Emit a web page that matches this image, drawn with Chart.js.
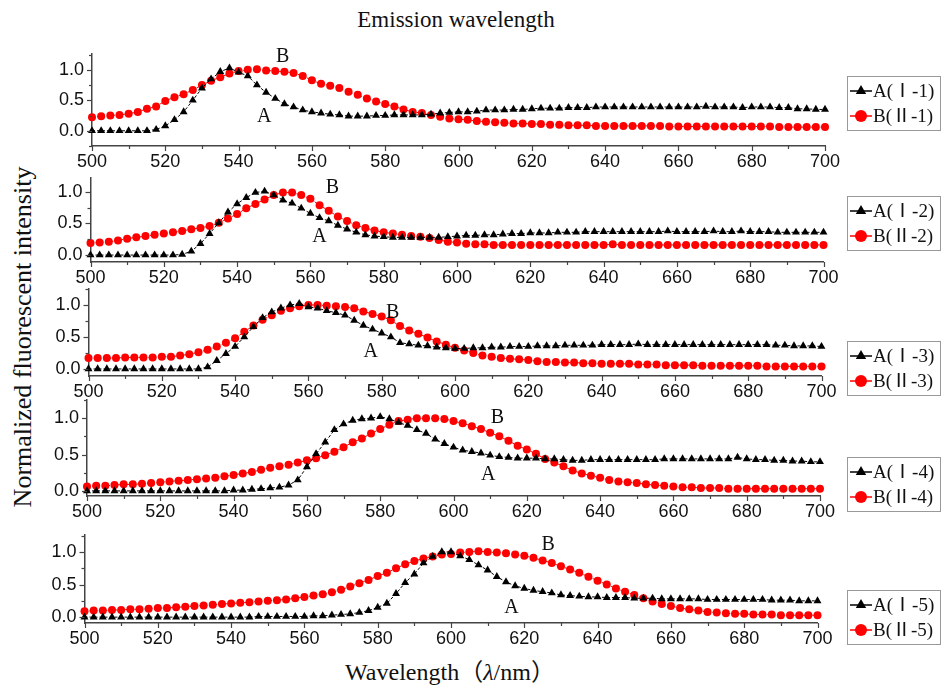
<!DOCTYPE html>
<html>
<head>
<meta charset="utf-8">
<script src="https://cdn.jsdelivr.net/npm/chart.js@4.4.0/dist/chart.umd.min.js"></script>
<style>
  body { margin: 0; background: #fff; }
  #wrap { position: relative; width: 944px; height: 686px; overflow: hidden; background: #fff; }
  .panel { position: absolute; left: 0; }
  .txt { position: absolute; font-family: "Liberation Serif", "Noto Sans CJK SC", serif; color: #111; white-space: nowrap; transform: translate(-50%, -50%); }
  #title { left: 456px; top: 20px; font-size: 23px; }
  #ytitle { left: 23px; top: 337px; font-size: 26px; transform: translate(-50%, -50%) rotate(-90deg); }
  #xtitle { left: 450px; top: 669px; font-size: 24px; }
</style>
</head>
<body>
<div id="wrap">
  <div class="txt" id="title">Emission wavelength</div>
  <div class="txt" id="ytitle">Normalized fluorescent intensity</div>
  <div class="txt" id="xtitle">Wavelength（<i>λ</i>/nm）</div>
</div>
<script>
// wavelength grid (nm)
const wavelengths = [
  500, 502.5, 505, 507.5, 510, 512.5, 515, 517.5, 520, 522.5,
  525, 527.5, 530, 532.5, 535, 537.5, 540, 542.5, 545, 547.5,
  550, 552.5, 555, 557.5, 560, 562.5, 565, 567.5, 570, 572.5,
  575, 577.5, 580, 582.5, 585, 587.5, 590, 592.5, 595, 597.5,
  600, 602.5, 605, 607.5, 610, 612.5, 615, 617.5, 620, 622.5,
  625, 627.5, 630, 632.5, 635, 637.5, 640, 642.5, 645, 647.5,
  650, 652.5, 655, 657.5, 660, 662.5, 665, 667.5, 670, 672.5,
  675, 677.5, 680, 682.5, 685, 687.5, 690, 692.5, 695, 697.5,
  700
];

// panel 1
const a1 = [
  0, 0, 0, 0, 0, 0, 0, 0.02, 0.08, 0.18,
  0.31, 0.50, 0.70, 0.85, 0.97, 1.03, 0.96, 0.90, 0.75, 0.63,
  0.53, 0.44, 0.39, 0.34, 0.31, 0.29, 0.27, 0.26, 0.24, 0.24,
  0.24, 0.25, 0.25, 0.26, 0.26, 0.26, 0.26, 0.27, 0.29, 0.30,
  0.31, 0.31, 0.32, 0.34, 0.34, 0.34, 0.35, 0.35, 0.36, 0.37,
  0.37, 0.37, 0.38, 0.38, 0.38, 0.39, 0.39, 0.39, 0.39, 0.39,
  0.39, 0.39, 0.39, 0.39, 0.39, 0.39, 0.39, 0.40, 0.39, 0.39,
  0.39, 0.38, 0.39, 0.39, 0.39, 0.38, 0.38, 0.36, 0.36, 0.35,
  0.35
];
const b1 = [
  0.22, 0.24, 0.25, 0.26, 0.28, 0.31, 0.36, 0.40, 0.49, 0.55,
  0.60, 0.67, 0.75, 0.82, 0.88, 0.94, 0.98, 1.00, 1.01, 0.99,
  0.98, 0.97, 0.95, 0.90, 0.83, 0.77, 0.74, 0.70, 0.64, 0.59,
  0.53, 0.48, 0.44, 0.40, 0.35, 0.31, 0.29, 0.26, 0.23, 0.20,
  0.19, 0.18, 0.16, 0.15, 0.14, 0.13, 0.12, 0.12, 0.11, 0.11,
  0.10, 0.10, 0.09, 0.09, 0.09, 0.08, 0.08, 0.08, 0.08, 0.08,
  0.08, 0.08, 0.08, 0.07, 0.07, 0.07, 0.07, 0.07, 0.07, 0.07,
  0.07, 0.07, 0.07, 0.07, 0.07, 0.06, 0.06, 0.06, 0.06, 0.06,
  0.06
];

// panel 2
const a2 = [
  0, 0, 0, 0, 0, 0, 0, 0, 0, 0,
  0.01, 0.06, 0.18, 0.34, 0.51, 0.68, 0.81, 0.91, 0.99, 1.01,
  0.95, 0.87, 0.82, 0.74, 0.66, 0.59, 0.54, 0.47, 0.41, 0.36,
  0.32, 0.30, 0.29, 0.28, 0.28, 0.28, 0.28, 0.28, 0.28, 0.29,
  0.30, 0.31, 0.31, 0.32, 0.32, 0.33, 0.34, 0.34, 0.35, 0.35,
  0.35, 0.36, 0.36, 0.36, 0.37, 0.37, 0.37, 0.37, 0.37, 0.37,
  0.37, 0.37, 0.37, 0.38, 0.37, 0.37, 0.37, 0.37, 0.38, 0.37,
  0.37, 0.38, 0.37, 0.37, 0.37, 0.36, 0.36, 0.36, 0.36, 0.36,
  0.36
];
const b2 = [
  0.19, 0.20, 0.21, 0.23, 0.26, 0.28, 0.30, 0.32, 0.34, 0.36,
  0.38, 0.41, 0.43, 0.46, 0.51, 0.58, 0.65, 0.74, 0.81, 0.88,
  0.95, 0.99, 0.99, 0.95, 0.89, 0.79, 0.70, 0.61, 0.54, 0.47,
  0.43, 0.39, 0.36, 0.34, 0.32, 0.30, 0.29, 0.27, 0.24, 0.21,
  0.20, 0.18, 0.17, 0.17, 0.16, 0.16, 0.16, 0.16, 0.16, 0.16,
  0.16, 0.16, 0.16, 0.16, 0.16, 0.16, 0.16, 0.17, 0.16, 0.16,
  0.16, 0.16, 0.16, 0.16, 0.16, 0.16, 0.16, 0.16, 0.16, 0.16,
  0.16, 0.16, 0.16, 0.16, 0.16, 0.16, 0.16, 0.16, 0.16, 0.16,
  0.16
];

// panel 3
const a3 = [
  0, 0, 0, 0, 0, 0, 0, 0, 0, 0,
  0, 0, 0, 0.03, 0.13, 0.24, 0.35, 0.50, 0.66, 0.80,
  0.89, 0.95, 1.00, 1.02, 0.97, 0.95, 0.91, 0.88, 0.84, 0.76,
  0.68, 0.62, 0.56, 0.50, 0.41, 0.39, 0.37, 0.36, 0.34, 0.33,
  0.32, 0.32, 0.33, 0.33, 0.34, 0.34, 0.35, 0.35, 0.35, 0.36,
  0.36, 0.36, 0.37, 0.37, 0.37, 0.37, 0.38, 0.38, 0.38, 0.38,
  0.39, 0.38, 0.38, 0.38, 0.38, 0.38, 0.38, 0.38, 0.38, 0.38,
  0.38, 0.38, 0.38, 0.38, 0.38, 0.37, 0.37, 0.36, 0.36, 0.36,
  0.35
];
const b3 = [
  0.17, 0.17, 0.17, 0.17, 0.18, 0.18, 0.18, 0.18, 0.19, 0.19,
  0.21, 0.23, 0.26, 0.30, 0.35, 0.41, 0.48, 0.58, 0.68, 0.77,
  0.84, 0.91, 0.95, 0.98, 1.00, 1.00, 0.99, 0.98, 0.97, 0.95,
  0.90, 0.86, 0.82, 0.76, 0.67, 0.60, 0.55, 0.49, 0.43, 0.38,
  0.33, 0.29, 0.25, 0.21, 0.19, 0.17, 0.16, 0.15, 0.14, 0.12,
  0.11, 0.11, 0.10, 0.10, 0.09, 0.09, 0.08, 0.08, 0.08, 0.08,
  0.07, 0.07, 0.07, 0.06, 0.06, 0.06, 0.06, 0.05, 0.05, 0.05,
  0.05, 0.05, 0.05, 0.05, 0.04, 0.04, 0.04, 0.04, 0.04, 0.04,
  0.04
];

// panel 4
const a4 = [
  0, 0, 0, 0, 0, 0, 0, 0, 0, 0,
  0, 0, 0, 0, 0, 0, 0.01, 0.01, 0.02, 0.03,
  0.04, 0.05, 0.08, 0.15, 0.33, 0.51, 0.67, 0.84, 0.92, 0.97,
  0.99, 1.00, 1.02, 0.99, 0.94, 0.90, 0.84, 0.79, 0.71, 0.65,
  0.60, 0.56, 0.54, 0.52, 0.49, 0.47, 0.46, 0.45, 0.45, 0.45,
  0.44, 0.44, 0.43, 0.42, 0.42, 0.43, 0.43, 0.43, 0.43, 0.43,
  0.43, 0.43, 0.43, 0.44, 0.44, 0.44, 0.44, 0.44, 0.44, 0.44,
  0.44, 0.46, 0.44, 0.43, 0.43, 0.42, 0.42, 0.41, 0.41, 0.40,
  0.40
];
const b4 = [
  0.06, 0.07, 0.07, 0.08, 0.09, 0.09, 0.10, 0.11, 0.12, 0.13,
  0.14, 0.15, 0.16, 0.17, 0.18, 0.20, 0.22, 0.24, 0.26, 0.29,
  0.32, 0.34, 0.36, 0.39, 0.42, 0.45, 0.49, 0.54, 0.60, 0.67,
  0.72, 0.79, 0.85, 0.91, 0.96, 0.98, 1.00, 1.00, 1.00, 0.99,
  0.96, 0.93, 0.89, 0.85, 0.80, 0.75, 0.69, 0.62, 0.57, 0.51,
  0.44, 0.39, 0.34, 0.28, 0.24, 0.21, 0.18, 0.15, 0.13, 0.12,
  0.11, 0.09, 0.08, 0.07, 0.06, 0.05, 0.05, 0.04, 0.04, 0.04,
  0.03, 0.03, 0.03, 0.03, 0.03, 0.03, 0.03, 0.03, 0.03, 0.03,
  0.03
];

// panel 5
const a5 = [
  0, 0, 0, 0, 0, 0, 0, 0, 0, 0,
  0, 0, 0, 0, 0, 0, 0, 0, 0, 0.01,
  0.01, 0.01, 0.01, 0.01, 0.01, 0.02, 0.02, 0.03, 0.04, 0.05,
  0.07, 0.10, 0.15, 0.21, 0.36, 0.53, 0.66, 0.83, 0.93, 1.00,
  1.00, 0.94, 0.88, 0.80, 0.72, 0.62, 0.54, 0.48, 0.44, 0.41,
  0.39, 0.37, 0.34, 0.33, 0.32, 0.31, 0.31, 0.30, 0.30, 0.30,
  0.29, 0.29, 0.29, 0.28, 0.28, 0.28, 0.28, 0.28, 0.27, 0.27,
  0.27, 0.27, 0.27, 0.27, 0.27, 0.26, 0.26, 0.26, 0.25, 0.25,
  0.25
];
const b5 = [
  0.09, 0.10, 0.10, 0.11, 0.11, 0.12, 0.12, 0.13, 0.14, 0.14,
  0.15, 0.16, 0.17, 0.18, 0.19, 0.20, 0.21, 0.22, 0.23, 0.24,
  0.25, 0.26, 0.27, 0.29, 0.31, 0.33, 0.35, 0.38, 0.42, 0.47,
  0.52, 0.57, 0.63, 0.68, 0.75, 0.81, 0.86, 0.90, 0.93, 0.96,
  0.97, 0.99, 1.00, 1.01, 1.00, 0.99, 0.98, 0.96, 0.94, 0.91,
  0.87, 0.83, 0.78, 0.73, 0.68, 0.62, 0.56, 0.50, 0.44, 0.39,
  0.34, 0.29, 0.24, 0.20, 0.17, 0.14, 0.12, 0.10, 0.08, 0.07,
  0.06, 0.05, 0.05, 0.04, 0.04, 0.04, 0.03, 0.03, 0.03, 0.03,
  0.03
];

const seriesA = [a1, a2, a3, a4, a5];
const seriesB = [b1, b2, b3, b4, b5];
const labelsA = ['A(Ⅰ-1)', 'A(Ⅰ-2)', 'A(Ⅰ-3)', 'A(Ⅰ-4)', 'A(Ⅰ-5)'];
const labelsB = ['B(Ⅱ-1)', 'B(Ⅱ-2)', 'B(Ⅱ-3)', 'B(Ⅱ-4)', 'B(Ⅱ-5)'];

// ticks
const xTickLabels = [500, 520, 540, 560, 580, 600, 620, 640, 660, 680, 700];
const xTickMinor = [510, 530, 550, 570, 590, 610, 630, 650, 670, 690];
const yTickLabels = [0, 0.5, 1.0];
const yTickMinor = [-0.25, 0.25, 0.75, 1.25];

// where the "A" / "B" tags sit, in data units [nm, intensity]
const tagA = [[547, 0.23], [562.5, 0.29], [577, 0.27], [609.5, 0.22], [616.5, 0.14]];
const tagB = [[552, 1.21], [566, 1.06], [583, 0.88], [612, 1.00], [626.5, 1.11]];

// layout of each panel (pixels)
const panelGeom = [
  { left: 92,   top: 54,  bottom: 146, yMin: -0.25, yMax: 1.26, legendTop: 76 },
  { left: 90.5, top: 178, bottom: 262, yMin: -0.11, yMax: 1.22, legendTop: 196 },
  { left: 88.5, top: 289, bottom: 376, yMin: -0.11, yMax: 1.25, legendTop: 341 },
  { left: 87,   top: 400, bottom: 496, yMin: -0.07, yMax: 1.25, legendTop: 457 },
  { left: 84.5, top: 535, bottom: 623, yMin: -0.09, yMax: 1.26, legendTop: 590 }
];
const PLOT_W = 733;
const PAD_TOP = 16, BELOW = 30;
const AXIS_CLR = '#444';
const TICK_FONT = { family: "'Liberation Sans', Arial, sans-serif", size: 18 };
const SERIF = "'Liberation Serif', 'Noto Sans CJK SC', serif";

// ticks, A/B tags and legend box
const panelDecor = {
    id: 'panelDecor',
    afterDraw(chart, args, opts) {
        const ctx = chart.ctx;
        const xs = chart.scales.x, ys = chart.scales.y;
        const area = chart.chartArea;
        ctx.save();
        ctx.strokeStyle = AXIS_CLR;
        ctx.lineWidth = 1.2;
        xTickLabels.concat(xTickMinor).forEach(v => {
            const px = Math.round(xs.getPixelForValue(v)) + 0.5;
            const len = xTickLabels.includes(v) ? 5 : 3;
            ctx.beginPath();
            ctx.moveTo(px, area.bottom);
            ctx.lineTo(px, area.bottom + len);
            ctx.stroke();
        });
        yTickLabels.concat(yTickMinor).forEach(v => {
            if (v < ys.min || v > ys.max) return;
            const py = Math.round(ys.getPixelForValue(v)) + 0.5;
            const len = yTickLabels.includes(v) ? 5 : 3;
            ctx.beginPath();
            ctx.moveTo(area.left, py);
            ctx.lineTo(area.left - len, py);
            ctx.stroke();
        });

        // A / B tags
        ctx.fillStyle = '#111';
        ctx.font = '20px ' + SERIF;
        ctx.textAlign = 'center';
        ctx.textBaseline = 'middle';
        ctx.fillText('A', xs.getPixelForValue(opts.tagA[0]), ys.getPixelForValue(opts.tagA[1]));
        ctx.fillText('B', xs.getPixelForValue(opts.tagB[0]), ys.getPixelForValue(opts.tagB[1]));

        // legend
        const lx = 847, lw = 93, lh = 54;
        const top = opts.legendTop - opts.canvasTop;
        ctx.fillStyle = '#fff';
        ctx.fillRect(lx, top, lw, lh);
        ctx.strokeStyle = '#999';
        ctx.lineWidth = 1;
        ctx.strokeRect(lx + 0.5, top + 0.5, lw, lh);
        ctx.font = '19px ' + SERIF;
        ctx.textAlign = 'left';
        chart.data.datasets.forEach((ds, i) => {
            const cy = top + 15 + i * 25;
            ctx.strokeStyle = ds.borderColor;
            ctx.lineWidth = 1.5;
            ctx.beginPath();
            ctx.moveTo(850, cy);
            ctx.lineTo(872, cy);
            ctx.stroke();
            ctx.fillStyle = ds.backgroundColor;
            Chart.helpers.drawPoint(ctx, { pointStyle: ds.pointStyle, radius: 6, borderWidth: 0, rotation: 0 }, 861, cy);
            ctx.fillStyle = '#111';
            ctx.fillText(ds.label, 873, cy + 1);
        });
        ctx.restore();
    }
};

function buildPanel(i) {
    const g = panelGeom[i];
    const canvasTop = g.top - PAD_TOP;
    const holder = document.createElement('div');
    holder.className = 'panel';
    holder.style.top = canvasTop + 'px';
    const canvas = document.createElement('canvas');
    canvas.width = 944;
    canvas.height = (g.bottom + BELOW) - canvasTop;
    holder.appendChild(canvas);
    document.getElementById('wrap').appendChild(holder);

    new Chart(canvas, {
        type: 'line',
        data: {
            datasets: [{
                label: labelsA[i],
                data: wavelengths.map((w, k) => ({ x: w, y: seriesA[i][k] })),
                borderColor: '#000',
                backgroundColor: '#000',
                borderWidth: 1,
                borderDash: [3, 2],
                pointStyle: 'triangle',
                pointRadius: 4.6,
                pointBorderWidth: 0,
                clip: false
            }, {
                label: labelsB[i],
                data: wavelengths.map((w, k) => ({ x: w, y: seriesB[i][k] })),
                borderColor: '#ff0000',
                backgroundColor: '#ff0000',
                borderWidth: 1,
                borderDash: [3, 2],
                pointStyle: 'circle',
                pointRadius: 4,
                pointBorderWidth: 0,
                clip: false
            }]
        },
        options: {
            responsive: false,
            animation: false,
            devicePixelRatio: 1,
            layout: {
                autoPadding: false,
                padding: { top: PAD_TOP, left: 0, bottom: 0, right: 944 - (g.left + PLOT_W) }
            },
            plugins: {
                legend: { display: false },
                tooltip: { enabled: false },
                panelDecor: { tagA: tagA[i], tagB: tagB[i], legendTop: g.legendTop, canvasTop: canvasTop }
            },
            scales: {
                x: {
                    type: 'linear',
                    min: 500,
                    max: 700,
                    afterBuildTicks: s => { s.ticks = xTickLabels.map(v => ({ value: v })); },
                    afterFit: s => { s.height = BELOW; s.paddingLeft = 0; s.paddingRight = 0; },
                    ticks: { font: TICK_FONT, color: '#111', padding: 5, maxRotation: 0, autoSkip: false },
                    grid: { display: false, drawTicks: false },
                    border: { display: true, color: AXIS_CLR, width: 1.5 }
                },
                y: {
                    min: g.yMin,
                    max: g.yMax,
                    afterBuildTicks: s => { s.ticks = yTickLabels.map(v => ({ value: v })); },
                    afterFit: s => { s.width = g.left; s.paddingTop = 0; s.paddingBottom = 0; },
                    ticks: { font: TICK_FONT, color: '#111', padding: 8, callback: v => v.toFixed(1) },
                    grid: { display: false, drawTicks: false },
                    border: { display: true, color: AXIS_CLR, width: 1.5 }
                }
            }
        },
        plugins: [panelDecor]
    });
}

for (let i = 0; i < panelGeom.length; i++) {
    buildPanel(i);
}
</script>
</body>
</html>
